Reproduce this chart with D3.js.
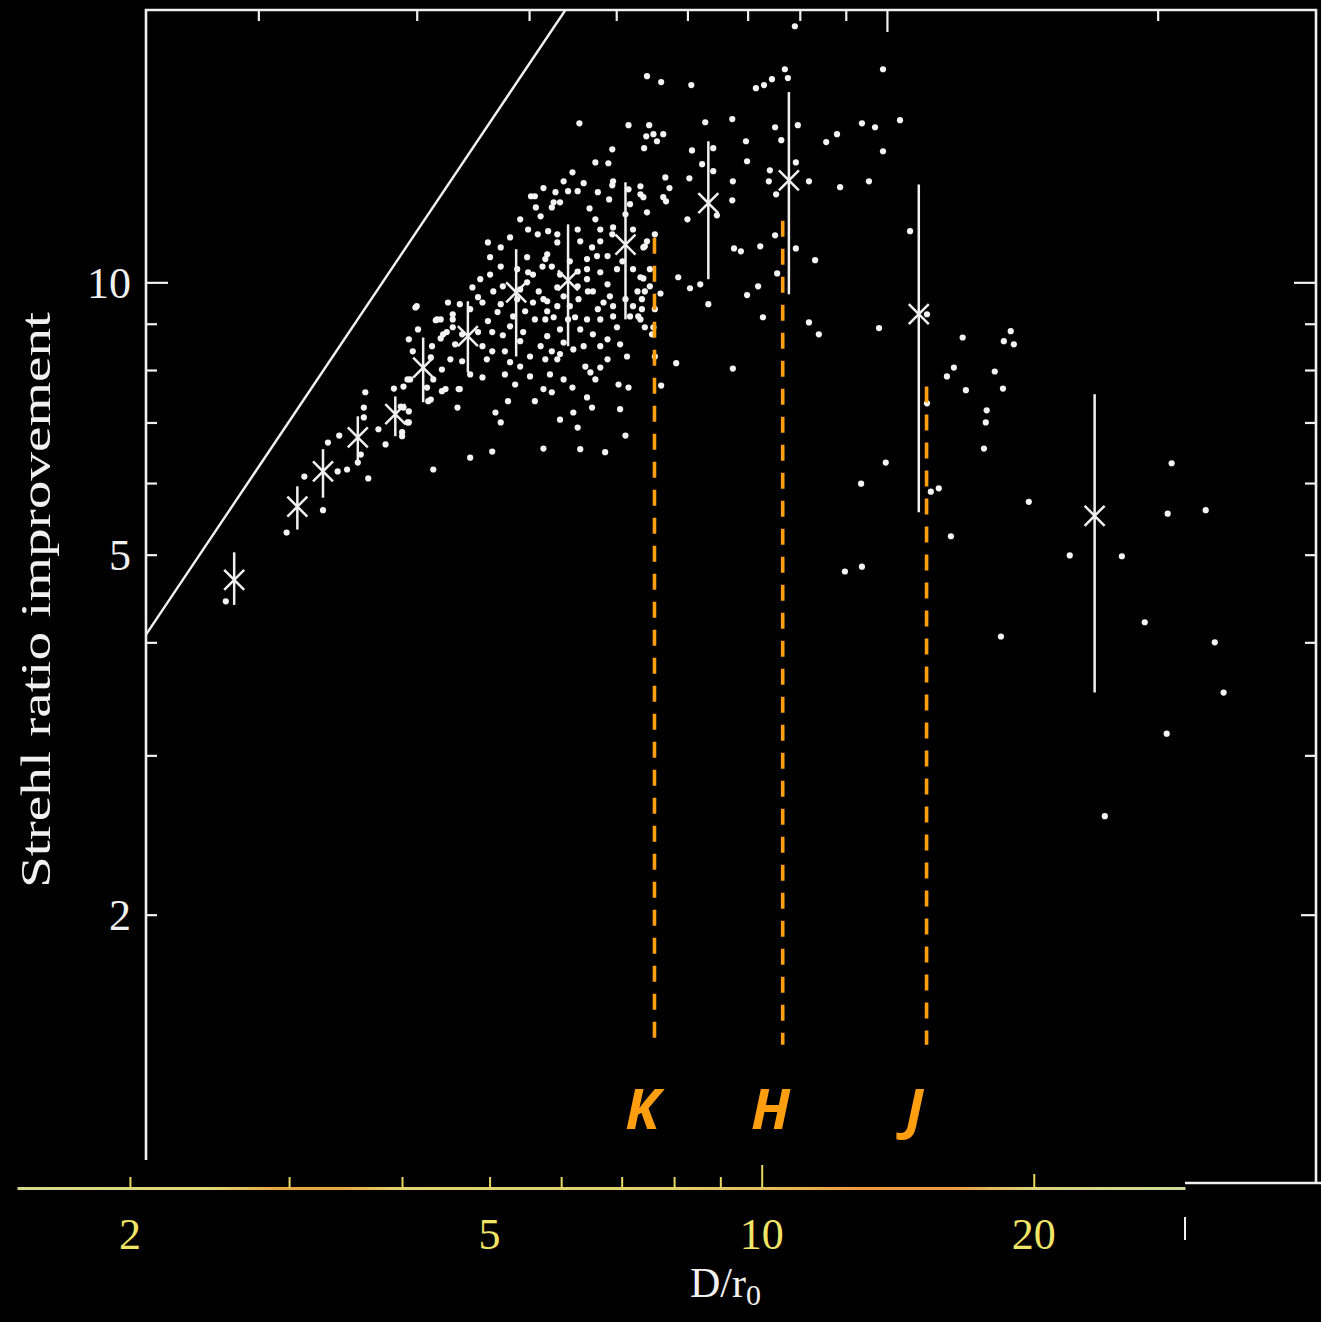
<!DOCTYPE html>
<html><head><meta charset="utf-8">
<script src="https://cdn.jsdelivr.net/npm/d3@7"></script>
<style>html,body{margin:0;padding:0;background:#000;}svg{display:block}</style>
</head><body>
<svg id="chart" width="1321" height="1322"></svg>
<script>
// individual frames: [D/r0, Strehl ratio improvement]
const scatter = [
[1.84,4.44],[2.15,5.29],[2.36,5.60],[2.25,6.10],[2.39,6.65],[2.46,6.77],[2.51,6.21],[2.45,6.18],[2.65,6.07],[2.63,7.56],
[2.62,7.27],[2.62,7.09],[2.58,6.32],[2.60,6.45],[2.77,6.62],[2.72,6.88],[2.83,7.63],[2.89,6.76],[2.94,7.00],[2.94,7.20],
[2.88,7.29],[3.13,6.21],[2.99,9.38],[3.01,8.87],[3.15,9.08],[3.25,9.50],[3.19,8.67],[3.27,8.22],[3.20,8.01],[3.20,7.58],
[3.11,7.42],[2.97,8.39],[2.90,7.67],[2.95,7.81],[3.34,7.62],[3.33,7.27],[3.29,9.10],[3.24,8.81],[3.08,7.65],
[4.47,13.23],[4.37,12.93],[4.60,12.87],[4.74,13.57],[4.90,13.54],[4.96,12.93],[5.32,12.77],[4.06,12.45],[4.02,12.45],[4.15,12.71],
[4.28,12.58],[4.42,12.61],[4.53,12.61],[4.77,12.58],[4.91,12.35],[5.36,12.42],[4.26,12.26],[4.33,12.26],[4.24,12.10],[4.07,12.10],
[4.67,12.07],[5.18,12.20],[5.41,11.95],[4.12,11.83],[3.99,11.44],[3.81,11.21],[3.60,11.07],[3.72,10.93],[3.98,10.66],[4.09,11.30],
[4.20,11.39],[4.30,11.30],[4.30,11.07],[4.53,11.44],[4.56,11.10],[4.80,11.44],[4.80,11.10],[4.96,11.50],[4.95,11.30],[5.22,11.44],
[5.41,11.10],[5.36,10.93],[4.70,10.93],[4.76,10.69],[4.89,10.69],[4.64,10.61],[4.64,10.34],[4.53,10.28],[4.19,10.74],[4.14,10.41],
[4.24,10.41],[4.04,10.20],[3.98,10.00],[4.10,9.77],[4.19,9.53],[4.30,9.41],[3.72,10.41],[3.62,10.20],[3.53,10.08],[3.74,9.90],
[3.88,10.34],[3.99,10.26],[3.65,9.77],[3.46,9.87],[3.55,9.50],[3.35,9.46],[3.16,9.10],[3.00,9.41],[2.94,8.65],[3.29,9.22],
[3.21,8.76],[3.29,8.92],[3.60,9.06],[3.69,9.27],[3.64,8.81],[3.74,8.74],[3.51,8.81],[3.55,8.50],[3.64,8.39],[3.59,8.22],
[3.55,7.85],[3.37,8.18],[3.23,7.62],[3.35,7.62],[3.13,7.81],[3.12,8.50],[2.93,7.81],[2.90,7.27],[2.93,7.00],[2.89,6.83],
[3.09,7.39],[3.44,6.40],[3.64,6.50],[3.67,7.18],[3.72,7.00],[3.79,7.39],[3.91,8.61],[3.94,8.81],[3.81,8.16],[3.91,8.07],
[4.01,7.87],[4.12,8.50],[4.17,8.22],[4.19,8.72],[4.17,9.10],[4.19,9.29],[4.26,9.15],[4.24,8.39],[4.30,8.22],[4.22,7.91],
[4.37,7.81],[4.15,7.62],[4.24,7.56],[4.47,7.65],[4.48,7.18],[4.53,6.91],[4.15,6.55],[4.64,7.46],[4.70,7.27],[4.62,8.07],
[4.68,7.95],[4.80,8.05],[4.89,8.22],[4.56,8.87],[4.64,9.10],[4.71,8.76],[4.80,8.50],[4.60,8.50],[4.48,8.43],[4.77,9.34],
[4.84,9.50],[4.92,9.65],[4.96,9.41],[4.96,9.17],[4.89,9.95],[4.71,9.77],[4.65,9.77],[4.64,10.08],[4.80,10.26],[5.01,10.34],
[5.22,10.34],[5.32,10.13],[5.28,9.77],[5.38,9.77],[5.34,9.58],[5.45,9.90],[5.22,9.41],[5.29,9.17],[5.38,8.92],[5.32,9.10],
[5.18,9.17],[5.14,8.28],[5.16,7.65],[5.12,6.77],[4.86,6.49],[5.50,8.92],[5.01,8.92],[4.89,8.65],[4.30,9.87],[4.33,10.20],
[4.53,9.90],[4.54,9.58],[4.37,9.65],[4.44,9.41],[4.42,9.10],[4.33,8.87],[4.37,8.58],[4.15,9.58],[4.04,9.50],[3.96,9.29],
[3.84,9.17],[3.81,8.94],[3.72,9.46],[3.88,9.58],
[3.44,9.34],[3.51,9.63],[3.37,8.76],[3.76,8.39],[3.86,7.71],[4.06,9.10],[4.01,8.28],[4.33,8.33],[4.50,9.15],[4.74,7.81],
[5.03,7.71],[5.05,8.54],[5.45,10.34],[5.08,10.55],[4.44,10.55],[3.91,9.82],[3.31,8.54],[3.44,7.91],[3.76,7.91],[4.56,6.54],
[4.33,7.05],[5.05,7.24],[4.17,10.61],[4.74,11.74],[5.12,11.89],[3.91,11.74],[3.62,10.66],[3.19,9.10],[3.11,8.26],[4.80,9.10],
[5.12,9.58],[5.52,9.34],[4.06,7.39],
[7.90,19.19],[9.90,17.20],[5.41,16.90],[5.61,16.65],[6.06,16.52],[7.70,17.20],[7.76,16.82],[7.45,16.77],[7.30,16.52],[7.15,16.39],
[4.55,14.99],[5.16,14.92],[5.44,14.92],[5.64,14.58],[5.40,14.50],[5.50,14.58],[5.55,14.32],[6.28,15.03],[6.73,15.15],[7.51,14.84],
[7.96,14.92],[8.80,14.58],[8.56,14.29],[9.38,14.99],[9.70,14.84],[9.90,13.96],[10.34,15.11],[4.95,14.03],[5.37,14.07],
[4.95,12.80],[5.16,12.67],[5.32,12.51],[5.67,13.06],[5.73,12.71],[5.64,12.42],[5.68,12.29],[6.07,13.99],[6.03,13.03],[6.23,13.51],
[6.41,14.07],[6.41,13.27],[6.74,12.93],[6.73,12.32],[6.97,14.32],[6.99,13.61],[7.41,13.30],[7.63,14.36],[7.92,13.57],[7.39,12.93],
[7.53,12.51],[8.19,12.93],[8.87,12.74],[9.55,12.93],[6.47,11.86],[6.00,11.74],[6.76,10.90],[6.88,10.82],[7.23,10.96],[7.51,11.27],
[7.92,10.90],[8.32,10.58],[7.55,10.23],[10.61,11.39],[5.86,10.13],[6.04,9.85],[6.20,9.95],[7.19,9.90],[6.99,9.68],[6.33,9.46],
[7.28,9.15],[8.19,9.03],[8.40,8.76],[9.80,8.90],[11.08,9.22],[6.74,8.03],[5.83,8.14],[5.61,7.69],[5.52,8.28],[5.48,8.76],
[5.34,9.34],[5.60,9.72],[5.36,10.10],[11.08,7.35],[9.97,6.32],[9.36,5.99],[11.19,5.87],[11.42,5.92],[5.52,11.30],[5.38,10.96],
[13.73,8.83],[12.14,8.69],[13.49,8.61],[13.84,8.54],[11.87,8.05],[11.66,7.87],[13.18,7.97],[12.24,7.60],[13.46,7.63],[12.91,7.22],
[12.88,7.00],[12.82,6.55],[14.38,5.72],[11.78,5.24],[8.98,4.79],[9.38,4.85],[15.97,4.99],[18.25,4.98],[20.73,6.31],[20.52,5.55],
[22.62,5.60],[19.35,4.21],[23.15,4.00],[23.68,3.52],[20.47,3.17],[13.39,4.06],[17.47,2.57]
];

// binned means with spread
const binDr0  = [1.88, 2.21, 2.36, 2.58, 2.84, 3.05, 3.42, 3.87, 4.42, 5.12, 6.33, 7.78, 10.85, 17.02];
const binGain = [4.69, 5.65, 6.18, 6.74, 7.15, 8.05, 8.72, 9.75, 10.05, 11.01, 12.23, 12.96, 9.22, 5.52];
const binLow  = [4.40, 5.33, 5.78, 6.29, 6.76, 7.37, 7.95, 8.28, 8.50, 9.10, 10.08, 9.70, 5.57, 3.52];
const binHigh = [5.03, 5.95, 6.54, 7.11, 7.48, 8.69, 9.53, 10.88, 11.59, 12.90, 14.32, 16.23, 12.83, 7.52];

// theoretical upper bound line
const boundDr0  = [1.5, 4.39];
const boundGain = [4.08, 20];

// axes
const xTicks = [2,3,4,5,6,7,8,9,10,20];
const xLabels = [2,5,10,20];
const yTicks = [2,3,4,5,6,7,8,9,10];
const yLabels = [2,5,10];

// band annotations (on the D/r0 axis below)
const bandNames = ["K","H","J"];
const bandDr0   = [7.61, 10.55, 15.22];
const bandTop   = [11.2, 11.7, 7.67];
const bandBottom= [1.455, 1.436, 1.436];

const W = 1321, H = 1322;
const svg = d3.select('#chart');
svg.append('rect').attr('width', W).attr('height', H).attr('fill', '#000');

const x = d3.scaleLog().domain([1.5, 30]).range([146, 1316]);
const y = d3.scaleLog().domain([1, 20]).range([1187, 10]);
const xb = d3.scaleLog().domain([1.5, 29.4]).range([17, 1185]);

const defs = svg.append('defs');
defs.append('clipPath').attr('id', 'pc').append('rect')
  .attr('x', x(1.5)).attr('y', y(20)).attr('width', x(30) - x(1.5)).attr('height', y(1) - y(20));
const grad = defs.append('linearGradient').attr('id', 'yg').attr('gradientUnits', 'userSpaceOnUse')
  .attr('x1', 17).attr('x2', 1185).attr('y1', 0).attr('y2', 0);
[[0,'#d6d98a'],[0.17,'#e2d672'],[0.22,'#e8a848'],[0.28,'#e8a848'],[0.33,'#e2d470'],[0.55,'#e0d070'],
 [0.66,'#e6b858'],[0.72,'#ee9a40'],[0.8,'#ec9c44'],[0.87,'#dcd27a'],[1,'#cfdc98']]
  .forEach(([o, c]) => grad.append('stop').attr('offset', o).attr('stop-color', c));

const WHITE = '#f0f0f0';

// frame (left side cut at 1160 by the composite)
const fx0 = x(1.5), fx1 = x(30), fy0 = y(20);
svg.append('path')
  .attr('d', `M${fx0},1160 L${fx0},${fy0} L${fx1},${fy0} L${fx1},1183`)
  .attr('fill', 'none').attr('stroke', WHITE).attr('stroke-width', 2.6);

// top ticks (inside)
const topAx = svg.append('g').attr('transform', `translate(0,${fy0})`)
  .call(d3.axisBottom(x).tickValues(xTicks).tickSize(11).tickFormat(''));
topAx.select('.domain').remove();
topAx.selectAll('line').attr('stroke', WHITE).attr('stroke-width', 2.2)
  .attr('y2', d => d === 10 ? 22 : 11);

// left ticks
const leftAx = svg.append('g').attr('transform', `translate(${fx0},0)`)
  .call(d3.axisRight(y).tickValues(yTicks).tickSize(11).tickFormat(''));
leftAx.select('.domain').remove();
leftAx.selectAll('line').attr('stroke', WHITE).attr('stroke-width', 2.2)
  .attr('x2', d => d === 10 ? 22 : 11);

// right ticks
const rightAx = svg.append('g').attr('transform', `translate(${fx1},0)`)
  .call(d3.axisLeft(y).tickValues(yTicks).tickSize(11).tickFormat(''));
rightAx.select('.domain').remove();
rightAx.selectAll('line').attr('stroke', WHITE).attr('stroke-width', 2.2)
  .attr('x2', d => d === 10 ? -22 : (d === 2 ? -15 : -11));

// y tick labels
svg.append('g').selectAll('text').data(yLabels).join('text')
  .attr('x', 131).attr('y', d => y(d)).attr('dy', '0.35em')
  .attr('text-anchor', 'end').attr('fill', WHITE)
  .attr('font-family', 'Liberation Serif, serif').attr('font-size', 44)
  .text(d => d);

// y axis title
svg.append('text')
  .attr('transform', `translate(50,600) rotate(-90)`)
  .attr('text-anchor', 'middle').attr('fill', WHITE)
  .attr('font-family', 'Liberation Serif, serif').attr('font-size', 43)
  .attr('textLength', 576).attr('lengthAdjust', 'spacingAndGlyphs')
  .text('Strehl ratio improvement');

const plot = svg.append('g').attr('clip-path', 'url(#pc)');

// upper bound line
plot.append('path')
  .datum(boundDr0.map((d, i) => [d, boundGain[i]]))
  .attr('d', d3.line().x(d => x(d[0])).y(d => y(d[1])))
  .attr('fill', 'none').attr('stroke', WHITE).attr('stroke-width', 2.4);

// scatter
plot.append('g').selectAll('circle').data(scatter).join('circle')
  .attr('cx', d => x(d[0])).attr('cy', d => y(d[1])).attr('r', 3.1).attr('fill', '#f4f4f4');

// bins
const bins = binDr0.map((d, i) => ({x: d, y: binGain[i], lo: binLow[i], hi: binHigh[i]}));
const bg = plot.append('g').attr('stroke', WHITE).attr('stroke-width', 2.5);
bg.selectAll('line.err').data(bins).join('line').attr('class', 'err')
  .attr('x1', d => x(d.x)).attr('x2', d => x(d.x)).attr('y1', d => y(d.lo)).attr('y2', d => y(d.hi));
const S = 10;
bg.selectAll('path.mk').data(bins).join('path').attr('class', 'mk')
  .attr('d', d => { const cx = x(d.x), cy = y(d.y);
    return `M${cx - S},${cy - S}L${cx + S},${cy + S}M${cx - S},${cy + S}L${cx + S},${cy - S}`; });

// cover strip of the composite
svg.append('rect').attr('x', 0).attr('y', 1160).attr('width', 1185).attr('height', 162).attr('fill', '#000');
svg.append('line').attr('x1', 1185).attr('x2', 1321).attr('y1', 1183).attr('y2', 1183)
  .attr('stroke', WHITE).attr('stroke-width', 2.4);
svg.append('line').attr('x1', 1185).attr('x2', 1185).attr('y1', 1217).attr('y2', 1240)
  .attr('stroke', WHITE).attr('stroke-width', 2);

// bottom (yellow) axis
const botAx = svg.append('g').attr('transform', 'translate(0,1188)')
  .call(d3.axisTop(xb).tickValues(xTicks).tickSize(11).tickSizeOuter(0).tickFormat(''));
botAx.select('.domain').attr('stroke', 'url(#yg)').attr('stroke-width', 3);
botAx.selectAll('.tick line').attr('stroke', '#e6d860').attr('stroke-width', 2)
  .attr('y2', d => d === 10 ? -23 : (d === 20 ? -14 : -11));
svg.append('g').selectAll('text').data(xLabels).join('text')
  .attr('x', d => xb(d)).attr('y', 1249).attr('text-anchor', 'middle')
  .attr('fill', '#f2e466').attr('font-family', 'Liberation Serif, serif').attr('font-size', 44)
  .text(d => d);

// x axis title D/r0
const xt = svg.append('text').attr('x', 690).attr('y', 1297).attr('fill', WHITE)
  .attr('font-family', 'Liberation Serif, serif').attr('font-size', 42);
xt.append('tspan').text('D/r');
xt.append('tspan').attr('font-size', 30).attr('dy', 8).text('0');

// band markers
const ORANGE = '#ff9f10';
svg.append('g').selectAll('line').data(bandDr0).join('line')
  .attr('x1', d => xb(d)).attr('x2', d => xb(d))
  .attr('y1', (d, i) => y(bandTop[i])).attr('y2', (d, i) => y(bandBottom[i]))
  .attr('stroke', ORANGE).attr('stroke-width', 3.6).attr('stroke-dasharray', '16,12');
svg.append('g').selectAll('text').data(bandNames).join('text')
  .attr('x', (d, i) => xb(bandDr0[i]) - 12).attr('y', 1129)
  .attr('text-anchor', 'middle').attr('fill', ORANGE)
  .attr('font-family', 'Open Sans, DejaVu Sans, sans-serif').attr('font-weight', 'bold')
  .attr('font-style', 'italic').attr('font-size', 56)
  .text(d => d);
</script>
</body></html>
